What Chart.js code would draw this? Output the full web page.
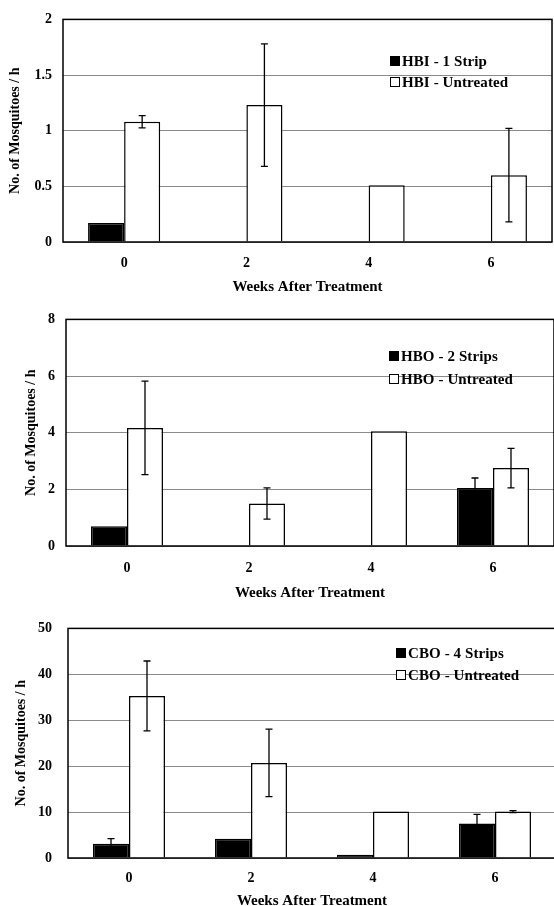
<!DOCTYPE html>
<html>
<head>
<meta charset="utf-8">
<script src="https://cdn.jsdelivr.net/npm/chart.js@4.4.1/dist/chart.umd.min.js"></script>
<style>
  html, body { margin: 0; padding: 0; background: #fff; width: 554px; height: 906px; overflow: hidden; }
  .panel { position: absolute; left: 0; }
  .row {
    position: absolute; height: 18px; display: flex; align-items: center;
    font-family: "Liberation Serif", "Times New Roman", serif; font-weight: bold;
    font-size: 15px; letter-spacing: 0.1px; color: #000; white-space: nowrap;
  }
  .sw { width: 10px; height: 10px; box-sizing: border-box; margin-right: 2px; }
  .sw.fill { background: #000; }
  .sw.open { background: #fff; border: 1.5px solid #000; }
</style>
</head>
<body>
<div class="panel" style="top:0"><canvas id="hbi" width="560" height="300"></canvas></div>
<div class="panel" style="top:300px"><canvas id="hbo" width="560" height="302"></canvas></div>
<div class="panel" style="top:604px"><canvas id="cbo" width="560" height="310"></canvas></div>
<div id="legends"></div>

<script>
// weeks after treatment
const weeks = ['0', '2', '4', '6'];

// HBI
const hbiStrip = [0.17, 0, 0, 0];
const hbiStripErr = [null, null, null, null];
const hbiUntreated = [1.08, 1.23, 0.51, 0.6];
const hbiUntreatedErr = [0.055, 0.55, null, 0.42];

// HBO
const hboStrips = [0.7, 0, 0, 2.05];
const hboStripsErr = [null, null, null, 0.35];
const hboUntreated = [4.17, 1.5, 4.05, 2.75];
const hboUntreatedErr = [1.65, 0.55, null, 0.7];

// CBO
const cboStrips = [3.1, 4.2, 0.7, 7.5];
const cboStripsErr = [1.1, null, null, 2.0];
const cboUntreated = [35.3, 20.7, 10.1, 10.1];
const cboUntreatedErr = [7.6, 7.35, null, 0.2];

const serif = '"Liberation Serif", "Times New Roman", serif';
Chart.defaults.font.family = serif;
Chart.defaults.font.weight = 'bold';
Chart.defaults.color = '#000';

// error bars + black frame round the plot area
const frameAndErrors = {
  id: 'frameAndErrors',
  afterDatasetsDraw(chart) {
    const ctx = chart.ctx;
    const y = chart.scales.y;
    ctx.save();
    ctx.strokeStyle = '#000';
    ctx.lineWidth = 1.3;
    chart.data.datasets.forEach((ds, i) => {
      if (!ds.errors) return;
      chart.getDatasetMeta(i).data.forEach((bar, j) => {
        const e = ds.errors[j];
        if (e == null) return;
        const v = ds.data[j];
        const top = y.getPixelForValue(v + e);
        const bot = y.getPixelForValue(Math.max(v - e, 0));
        ctx.beginPath();
        ctx.moveTo(bar.x, top); ctx.lineTo(bar.x, bot);
        ctx.moveTo(bar.x - 3.5, top); ctx.lineTo(bar.x + 3.5, top);
        ctx.moveTo(bar.x - 3.5, bot); ctx.lineTo(bar.x + 3.5, bot);
        ctx.stroke();
      });
    });
    const a = chart.chartArea;
    ctx.lineWidth = 1.5;
    ctx.strokeRect(a.left, a.top, a.right - a.left, a.bottom - a.top);
    ctx.restore();
  }
};

function drawPanel(id, cfg) {
  new Chart(document.getElementById(id), {
    type: 'bar',
    data: {
      labels: weeks,
      datasets: [
        { label: cfg.names[0], data: cfg.treated, errors: cfg.treatedErr,
          backgroundColor: '#000', borderColor: '#000', borderWidth: 1.5 },
        { label: cfg.names[1], data: cfg.untreated, errors: cfg.untreatedErr,
          backgroundColor: '#fff', borderColor: '#000', borderWidth: 1.5 }
      ]
    },
    options: {
      responsive: false,
      animation: false,
      layout: { padding: { top: cfg.top, right: cfg.right, left: 0, bottom: 0 } },
      datasets: { bar: { categoryPercentage: 0.59, barPercentage: 1 } },
      plugins: { legend: { display: false }, tooltip: { enabled: false } },
      scales: {
        x: {
          grid: { display: false, drawTicks: false },
          border: { display: false },
          ticks: { padding: cfg.xTickPad, font: { size: 14 } },
          title: { display: true, text: 'Weeks After Treatment', font: { size: 15 },
                   padding: { top: 0, bottom: cfg.xTitlePad } },
          afterFit: s => { s.height = cfg.xHeight; }
        },
        y: {
          min: 0, max: cfg.max,
          ticks: { stepSize: cfg.step, padding: cfg.yTickPad, font: { size: 14 },
                   callback: v => String(+v.toFixed(2)) },
          grid: { color: '#8a8a8a', lineWidth: 1, drawTicks: false },
          border: { display: false },
          title: { display: true, text: 'No. of Mosquitoes / h', font: { size: 14 },
                   padding: { top: cfg.yTitlePad, bottom: 0 } },
          afterFit: s => { s.width = cfg.left; }
        }
      }
    },
    plugins: [frameAndErrors]
  });

  // legend inside the plot
  const box = document.getElementById('legends');
  cfg.names.forEach((name, k) => {
    const row = document.createElement('div');
    row.className = 'row';
    row.style.left = cfg.legX + 'px';
    row.style.top = (cfg.legY[k] - 9) + 'px';
    row.innerHTML = '<span class="sw ' + (k === 0 ? 'fill' : 'open') + '"></span>' + name;
    box.appendChild(row);
  });
}

drawPanel('hbi', {
  names: ['HBI - 1 Strip', 'HBI - Untreated'],
  treated: hbiStrip, treatedErr: hbiStripErr,
  untreated: hbiUntreated, untreatedErr: hbiUntreatedErr,
  max: 2, step: 0.5,
  top: 18, right: 8, left: 63, xHeight: 58,
  xTickPad: 13, xTitlePad: 4, yTickPad: 11, yTitlePad: 7,
  legX: 390, legY: [61, 82]
});

drawPanel('hbo', {
  names: ['HBO - 2 Strips', 'HBO - Untreated'],
  treated: hboStrips, treatedErr: hboStripsErr,
  untreated: hboUntreated, untreatedErr: hboUntreatedErr,
  max: 8, step: 2,
  top: 11, right: 6, left: 66, xHeight: 56,
  xTickPad: 14, xTitlePad: 0, yTickPad: 11, yTitlePad: 23,
  legX: 389, legY: [356, 379]
});

drawPanel('cbo', {
  names: ['CBO - 4 Strips', 'CBO - Untreated'],
  treated: cboStrips, treatedErr: cboStripsErr,
  untreated: cboUntreated, untreatedErr: cboUntreatedErr,
  max: 50, step: 10,
  top: 14, right: 4, left: 68, xHeight: 56,
  xTickPad: 12, xTitlePad: 4, yTickPad: 16, yTitlePad: 13,
  legX: 396, legY: [653, 675]
});
</script>
</body>
</html>
